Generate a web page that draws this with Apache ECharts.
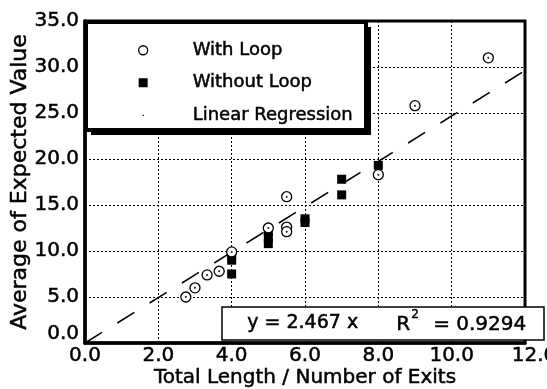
<!DOCTYPE html>
<html>
<head>
<meta charset="utf-8">
<script src="https://cdn.jsdelivr.net/npm/echarts@6/dist/echarts.min.js"></script>
<style>
  html, body { margin: 0; padding: 0; background: #fff; }
  #chart { width: 547px; height: 389px; }
</style>
</head>
<body>
<div id="chart"></div>
<script>
// Measured averages: [total length / number of exits, average expected value]
const withLoop = [
  [2.75, 5.0], [3.0, 6.0], [3.33, 7.4], [3.66, 7.8], [4.0, 9.9],
  [5.0, 12.5], [5.5, 12.6], [5.5, 12.1], [5.5, 15.9],
  [8.0, 18.3], [9.0, 25.8], [11.0, 31.0]
];
const withoutLoop = [
  [4.0, 9.5], [4.0, 9.0], [4.0, 7.5],
  [5.0, 12.1], [5.0, 11.4], [5.0, 10.8],
  [6.0, 13.5], [6.0, 13.1],
  [7.0, 17.8], [7.0, 16.1], [8.0, 19.3]
];
// Least-squares fit through the origin
const slope = 2.467;
const rSquared = 0.9294;
const xRange = [0, 12];
const yRange = [0, 35];
const seriesNames = ['With Loop', 'Without Loop', 'Linear Regression'];

const regressionLine = xRange.map(x => [x, x * slope]);

const FONT = 'DejaVu Sans';
// slight outline gives the heavier print look of the lettering
const INK = { color: '#000', textBorderColor: '#000', textBorderWidth: 0.5 };
const RAW_INK = { fill: '#000', stroke: '#000', lineWidth: 0.5 };
// open circle with a small centre dot
const dottedCircle = 'path://M10,0A10,10 0 1,1 10,20A10,10 0 1,1 10,0Z' +
  'M10,9.3A0.7,0.7 0 1,1 10,10.7A0.7,0.7 0 1,1 10,9.3Z';
// tiny dot centred in an otherwise empty icon box
const tinyDot = 'path://M0,0M9,9M4,4h1.2v1.2h-1.2Z';

const chart = echarts.init(document.getElementById('chart'), null, { renderer: 'canvas' });

chart.setOption({
  animation: false,
  backgroundColor: '#fff',
  grid: {
    left: 85, right: 22, top: 21, bottom: 46,
    outerBoundsMode: 'none', containLabel: false,
    show: true, borderColor: '#000', borderWidth: 3, backgroundColor: 'transparent'
  },
  xAxis: {
    type: 'value', min: xRange[0], max: xRange[1], interval: 2,
    name: 'Total Length / Number of Exits',
    nameLocation: 'middle', nameGap: 25, nameMoveOverlap: false,
    nameTextStyle: Object.assign({ fontFamily: FONT, fontSize: 20 }, INK),
    axisLine: { show: true, onZero: false, lineStyle: { color: '#000', width: 3.5 } },
    axisTick: { show: false },
    axisLabel: Object.assign({
      margin: 3, fontFamily: FONT, fontSize: 20, hideOverlap: false,
      formatter: v => v === xRange[1] ? '{e|' + v.toFixed(1) + '}' : v.toFixed(1),
      rich: { e: Object.assign({ fontFamily: FONT, fontSize: 20, padding: [0, 0, 0, 18] }, INK) }
    }, INK),
    splitLine: { show: true, lineStyle: { color: '#000', width: 1, type: [2, 2] } }
  },
  yAxis: {
    type: 'value', min: yRange[0], max: yRange[1], interval: 5,
    name: 'Average of Expected Value',
    nameLocation: 'middle', nameGap: 54, nameMoveOverlap: false,
    nameTextStyle: Object.assign({ fontFamily: FONT, fontSize: 22 }, INK),
    axisLine: { show: true, onZero: false, lineStyle: { color: '#000', width: 3.5 } },
    axisTick: { show: false },
    axisLabel: Object.assign({
      margin: 6, fontFamily: FONT, fontSize: 20, hideOverlap: false,
      formatter: v => v === yRange[0] ? '{z|' + v.toFixed(1) + '}' : v.toFixed(1),
      rich: { z: Object.assign({ fontFamily: FONT, fontSize: 20, padding: [0, 0, 18, 0] }, INK) }
    }, INK),
    splitLine: { show: true, lineStyle: { color: '#000', width: 1, type: [2, 2] } }
  },
  legend: {
    orient: 'vertical', left: 138, top: 41, z: 20, padding: 0,
    itemWidth: 9, itemHeight: 9, itemGap: 14,
    textStyle: Object.assign({ fontFamily: FONT, fontSize: 18, lineHeight: 18, padding: [0, 0, 0, 40] }, INK),
    data: [
      { name: seriesNames[0], icon: 'circle', itemStyle: { color: '#fff', borderColor: '#000', borderWidth: 1.3 } },
      { name: seriesNames[1], icon: 'rect', itemStyle: { color: '#000', borderWidth: 0 } },
      { name: seriesNames[2], icon: tinyDot, itemStyle: { color: '#000', borderWidth: 0 } }
    ]
  },
  graphic: [
    // legend frame with heavy drop shadow
    { type: 'rect', z: 10, shape: { x: 91, y: 27, width: 280, height: 108 }, style: { fill: '#000' } },
    { type: 'rect', z: 10, shape: { x: 86, y: 22, width: 280, height: 108 }, style: { fill: '#fff', stroke: '#000', lineWidth: 4 } },
    // fit equation box
    { type: 'rect', z: 10, shape: { x: 222, y: 307, width: 322, height: 33 }, style: { fill: '#fff', stroke: '#000', lineWidth: 1.5 } },
    {
      type: 'text', z: 11, left: 247, top: 313,
      style: Object.assign({ text: 'y = ' + slope.toFixed(3) + ' x', font: '19px "DejaVu Sans"' }, RAW_INK)
    },
    {
      type: 'text', z: 11, left: 396, top: 309,
      style: Object.assign({
        text: '{a|R}{s|2}{a| = ' + rSquared.toFixed(4) + '}',
        rich: {
          a: Object.assign({ fontFamily: FONT, fontSize: 20, verticalAlign: 'bottom', lineHeight: 26 }, RAW_INK),
          s: Object.assign({ fontFamily: FONT, fontSize: 12, verticalAlign: 'top', lineHeight: 26, padding: [0, 8, 0, 1] }, RAW_INK)
        }
      }, RAW_INK)
    }
  ],
  series: [
    {
      name: seriesNames[2], type: 'line', data: regressionLine, z: 3,
      showSymbol: false, symbol: 'none',
      lineStyle: { color: '#000', width: 1.5, type: [20, 18] },
      itemStyle: { color: '#000' }
    },
    {
      name: seriesNames[1], type: 'scatter', data: withoutLoop, z: 4,
      symbol: 'rect', symbolSize: 9,
      itemStyle: { color: '#000', opacity: 1 }
    },
    {
      name: seriesNames[0], type: 'scatter', data: withLoop, z: 5,
      symbol: dottedCircle, symbolSize: 10,
      itemStyle: { color: '#fff', borderColor: '#000', borderWidth: 1.3, opacity: 1 }
    }
  ]
});
</script>
</body>
</html>
